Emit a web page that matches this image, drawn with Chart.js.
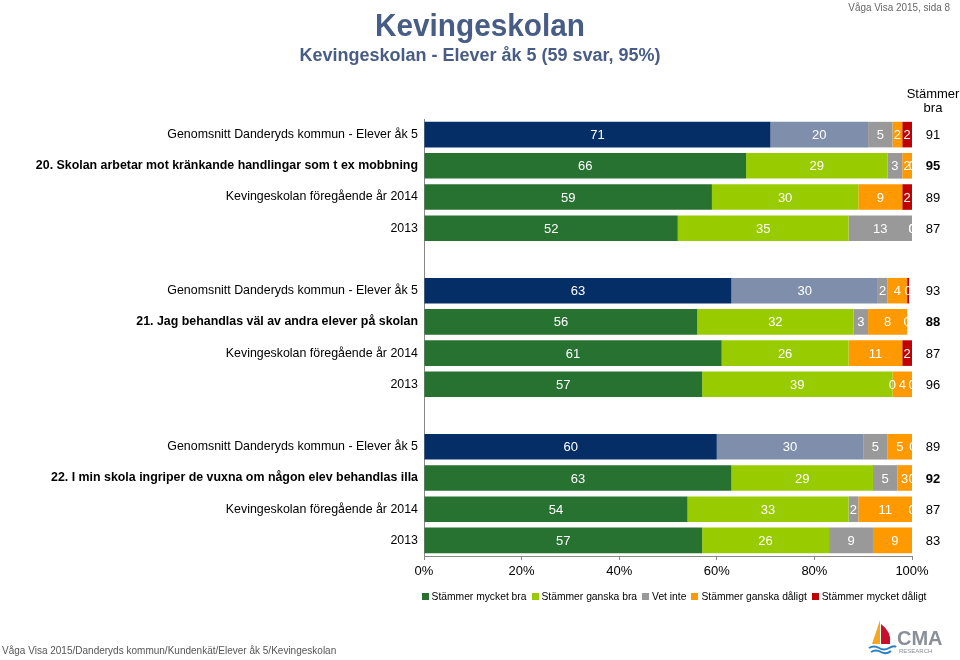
<!DOCTYPE html>
<html>
<head>
<meta charset="utf-8">
<script src="https://cdn.jsdelivr.net/npm/chart.js@4"></script>
<style>
  body { margin: 0; width: 960px; height: 660px; background: #fff; font-family: "Liberation Sans", Arial, sans-serif; position: relative; overflow: hidden; }
  #chartBox { position: absolute; left: 0; top: 0; width: 960px; height: 660px; }
  .abs { position: absolute; white-space: nowrap; }
  #title { left: 0; width: 960px; top: 7px; text-align: center; font-size: 32px; font-weight: bold; color: #485d86; transform: scaleX(0.93); }
  #subtitle { left: 0; width: 960px; top: 45px; text-align: center; font-size: 18px; font-weight: bold; color: #485d86; }
  #pageNo { right: 10px; top: 1px; font-size: 11px; color: #666; transform: scaleX(0.9); transform-origin: right top; }
  #footer { left: 2px; top: 644px; font-size: 11px; color: #555; transform: scaleX(0.91); transform-origin: left top; }
  #legend { left: 418px; width: 512px; top: 591px; display: flex; justify-content: center; gap: 5px; font-size: 10.3px; color: #000; }
  #legend span.box { display: inline-block; width: 7px; height: 7px; margin-right: 3px; vertical-align: 0px; }
  #sumHead { left: 905px; width: 56px; top: 87px; text-align: center; font-size: 13px; line-height: 14px; color: #000; }
  #logo { left: 866px; top: 618px; }
</style>
</head>
<body>
<div id="chartBox"><canvas id="chart" width="960" height="660"></canvas></div>
<div class="abs" id="title">Kevingeskolan</div>
<div class="abs" id="subtitle">Kevingeskolan - Elever åk 5 (59 svar, 95%)</div>
<div class="abs" id="pageNo">Våga Visa 2015, sida 8</div>
<div class="abs" id="sumHead">Stämmer<br>bra</div>
<div class="abs" id="legend"></div>
<div class="abs" id="footer">Våga Visa 2015/Danderyds kommun/Kundenkät/Elever åk 5/Kevingeskolan</div>
<svg class="abs" id="logo" width="90" height="40" viewBox="0 0 90 40">
  <path d="M14 2 L6 26 L14 26 Z" fill="#f5a623"/>
  <path d="M15 6 Q26 14 24 26 L15 26 Z" fill="#c8102e"/>
  <path d="M3 30 Q8 27 13 30 T23 30 T30 29" stroke="#2a7fc1" stroke-width="2" fill="none"/>
  <path d="M5 34 Q10 31 15 34 T25 33" stroke="#2a7fc1" stroke-width="2" fill="none"/>
  <text x="31" y="27" font-family="Liberation Sans, Arial" font-size="20" font-weight="bold" fill="#8a8f99">CMA</text>
  <text x="33" y="35" font-family="Liberation Sans, Arial" font-size="6" fill="#8a8f99">RESEARCH</text>
</svg>
<script>
// rows, top to bottom; blank labels are the gaps between the question groups
const rowLabels = [
  "Genomsnitt Danderyds kommun - Elever åk 5",
  "20. Skolan arbetar mot kränkande handlingar som t ex mobbning",
  "Kevingeskolan föregående år 2014",
  "2013",
  "",
  "Genomsnitt Danderyds kommun - Elever åk 5",
  "21. Jag behandlas väl av andra elever på skolan",
  "Kevingeskolan föregående år 2014",
  "2013",
  "",
  "Genomsnitt Danderyds kommun - Elever åk 5",
  "22. I min skola ingriper de vuxna om någon elev behandlas illa",
  "Kevingeskolan föregående år 2014",
  "2013"
];
const rowKind = ["avg", "q", "", "", "gap", "avg", "q", "", "", "gap", "avg", "q", "", ""];

const seriesNames = ["Stämmer mycket bra", "Stämmer ganska bra", "Vet inte", "Stämmer ganska dåligt", "Stämmer mycket dåligt"];
const mycketBra   = [71, 66, 59, 52, null, 63, 56, 61, 57, null, 60, 63, 54, 57];
const ganskaBra   = [20, 29, 30, 35, null, 30, 32, 26, 39, null, 30, 29, 33, 26];
const vetInte     = [5, 3, null, 13, null, 2, 3, null, 0, null, 5, 5, 2, 9];
const ganskaDaligt = [2, 2, 9, 0, null, 4, 8, 11, 4, null, 5, 3, 11, 9];
const mycketDaligt = [2, 0, 2, 0, null, 0.4, 0, 2, 0, null, 0.4, 0, 0, 0];
const stammerBra  = [91, 95, 89, 87, null, 93, 88, 87, 96, null, 89, 92, 87, 83];

const xTicks = [0, 20, 40, 60, 80, 100];

const schoolColors = ["#277231", "#99cc00", "#999999", "#ff9900", "#c00000"];
const avgColors = ["#052e66", "#7f8fab", "#999999", "#ff9900", "#c00000"];

const seriesData = [mycketBra, ganskaBra, vetInte, ganskaDaligt, mycketDaligt];

const datasets = seriesData.map((vals, i) => ({
  label: seriesNames[i],
  data: vals,
  backgroundColor: rowKind.map(k => (k === "avg" ? avgColors[i] : schoolColors[i])),
  borderWidth: 0,
  categoryPercentage: 1,
  barPercentage: 0.82
}));

// legend
const legendElem = document.getElementById("legend");
seriesNames.forEach((name, i) => {
  legendElem.innerHTML += `<div><span class="box" style="background:${schoolColors[i]}"></span>${name}</div>`;
});

const valueLabels = {
  id: "valueLabels",
  afterDatasetsDraw(chart) {
    const ctx = chart.ctx;
    const area = chart.chartArea;
    ctx.save();
    ctx.beginPath();
    ctx.rect(area.left, area.top, area.right - area.left, area.bottom - area.top);
    ctx.clip();
    ctx.font = "13px 'Liberation Sans', Arial, sans-serif";
    ctx.fillStyle = "#ffffff";
    ctx.textAlign = "center";
    ctx.textBaseline = "middle";
    chart.data.datasets.forEach((ds, di) => {
      const meta = chart.getDatasetMeta(di);
      meta.data.forEach((bar, idx) => {
        const v = ds.data[idx];
        if (v === null || v === undefined) return;
        const cx = (bar.x + bar.base) / 2;
        ctx.fillText(String(Math.round(v)), cx, bar.y + 1);
      });
    });
    ctx.restore();

    // "Stämmer bra" column
    ctx.save();
    ctx.fillStyle = "#000";
    ctx.textAlign = "center";
    ctx.textBaseline = "middle";
    const yScale = chart.scales.y;
    stammerBra.forEach((v, idx) => {
      if (v === null) return;
      ctx.font = (rowKind[idx] === "q" ? "bold " : "") + "13px 'Liberation Sans', Arial, sans-serif";
      ctx.fillText(String(v), 933, yScale.getPixelForValue(idx) + 1);
    });
    ctx.restore();
  }
};

new Chart(document.getElementById("chart"), {
  type: "bar",
  data: { labels: rowLabels, datasets },
  options: {
    indexAxis: "y",
    responsive: false,
    animation: false,
    layout: { padding: { left: 0, right: 48, top: 119, bottom: 74 } },
    plugins: { legend: { display: false }, tooltip: { enabled: false } },
    scales: {
      x: {
        stacked: true,
        min: 0,
        max: 100,
        afterFit: (scale) => { scale.height = 30; },
        afterBuildTicks: (scale) => { scale.ticks = xTicks.map(v => ({ value: v })); },
        ticks: {
          callback: (v) => v + "%",
          color: "#000",
          padding: 4,
          maxRotation: 0,
          font: { family: "'Liberation Sans', Arial, sans-serif", size: 13 }
        },
        grid: { drawOnChartArea: false, drawTicks: true, tickLength: 4, color: "#888" },
        border: { color: "#888" }
      },
      y: {
        stacked: true,
        afterFit: (scale) => { scale.width = 424; },
        ticks: {
          color: "#000",
          padding: 6,
          autoSkip: false,
          font: (ctx) => ({
            family: "'Liberation Sans', Arial, sans-serif",
            size: 12.4,
            weight: rowKind[ctx.index] === "q" ? "bold" : "normal"
          })
        },
        grid: { display: false, drawTicks: false, tickLength: 0 },
        border: { display: true, color: "#888" }
      }
    }
  },
  plugins: [valueLabels]
});
</script>
</body>
</html>
